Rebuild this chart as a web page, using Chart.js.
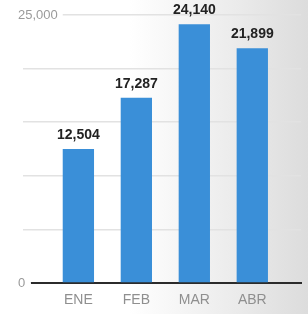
<!DOCTYPE html>
<html>
<head>
<meta charset="utf-8">
<script src="https://cdn.jsdelivr.net/npm/chart.js@4"></script>
<style>
  html, body { margin: 0; padding: 0; }
  body {
    width: 308px; height: 314px; overflow: hidden;
    background: linear-gradient(to right, #ffffff 0%, #ffffff 42%, #ececec 75%, #dcdcdc 100%);
  }
  #wrap { position: relative; width: 308px; height: 314px; }
</style>
</head>
<body>
<div id="wrap"><canvas id="ventasChart"></canvas></div>
<script>
const meses = ["ENE", "FEB", "MAR", "ABR"];
const ventas = [12504, 17287, 24140, 21899];
const ticksY = [0, 25000];

const fuente = "'Liberation Sans', Arial, sans-serif";

// etiquetas de valor encima de cada barra
const valorArriba = {
  id: "valorArriba",
  afterDatasetsDraw(chart) {
    const { ctx } = chart;
    const meta = chart.getDatasetMeta(0);
    ctx.save();
    ctx.font = "bold 14px " + fuente;
    ctx.fillStyle = "#222";
    ctx.textAlign = "center";
    ctx.textBaseline = "bottom";
    meta.data.forEach((bar, i) => {
      ctx.fillText(ventas[i].toLocaleString("en-US"), bar.x, bar.y - 7);
    });
    ctx.restore();
  }
};

const ctx = document.getElementById("ventasChart");
new Chart(ctx, {
  type: "bar",
  data: {
    datasets: [{
      data: ventas.map((v, i) => ({ x: i, y: v })),
      backgroundColor: "#3a8fd8",
      categoryPercentage: 0.6,
      barPercentage: 0.9
    }]
  },
  options: {
    responsive: true,
    maintainAspectRatio: false,
    animation: false,
    layout: { padding: { left: 18, right: 7, top: 15, bottom: 3 } },
    plugins: { legend: { display: false }, tooltip: { enabled: false } },
    scales: {
      x: {
        type: "linear",
        offset: false,
        min: -0.8,
        max: 3.84,
        afterBuildTicks: (scale) => { scale.ticks = meses.map((_, i) => ({ value: i })); },
        afterFit: (scale) => { scale.height = 28; },
        ticks: {
          callback: (v) => meses[v],
          color: "#8f8f8f",
          font: { family: fuente, size: 14 },
          padding: 9,
          maxRotation: 0
        },
        grid: { display: false, drawTicks: false },
        border: { color: "#2b2b2b", width: 2 }
      },
      y: {
        min: 0,
        max: 25000,
        ticks: {
          stepSize: 5000,
          callback: (v) => ticksY.includes(v) ? v.toLocaleString("en-US") : "",
          color: "#9a9a9a",
          font: { family: fuente, size: 13 },
          mirror: true,
          crossAlign: "near",
          padding: -14,
          showLabelBackdrop: true,
          backdropColor: "#ffffff",
          backdropPadding: { left: 1, right: 5, top: 0, bottom: 0 }
        },
        afterFit: (scale) => { scale.width = 14; },
        grid: { color: "#e2e2e2", lineWidth: 1.5, tickLength: 12 },
        border: { display: false }
      }
    }
  },
  plugins: [valorArriba]
});
</script>
</body>
</html>
